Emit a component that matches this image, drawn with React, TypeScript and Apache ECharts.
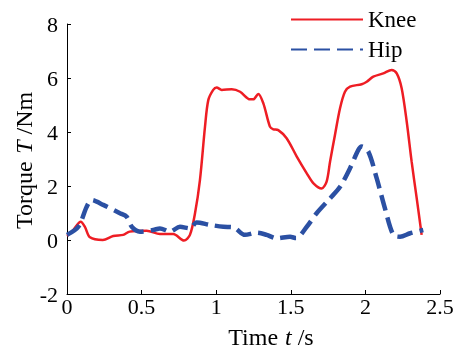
import React, { useEffect, useRef } from "react";
import * as echarts from "echarts";

const kneeData: number[][] = [
  [0, 0.15], [0.042, 0.37], [0.092, 0.68], [0.12, 0.49], [0.154, 0.1], [0.24, 0.0],
  [0.31, 0.15], [0.377, 0.19], [0.42, 0.31], [0.534, 0.34], [0.623, 0.22], [0.712, 0.22],
  [0.784, -0.02], [0.824, 0.19], [0.858, 0.99], [0.891, 2.22], [0.925, 4.2], [0.947, 5.18],
  [0.98, 5.56], [1.003, 5.65], [1.037, 5.56], [1.104, 5.58], [1.16, 5.49], [1.227, 5.21],
  [1.249, 5.21], [1.282, 5.41], [1.316, 5.06], [1.36, 4.2], [1.383, 4.1], [1.416, 4.07],
  [1.472, 3.77], [1.54, 3.09], [1.607, 2.47], [1.652, 2.1], [1.707, 1.91], [1.74, 2.16],
  [1.763, 2.9], [1.796, 3.89], [1.83, 4.88], [1.863, 5.49], [1.897, 5.68], [1.975, 5.77],
  [2.009, 5.86], [2.053, 6.05], [2.12, 6.17], [2.176, 6.3], [2.21, 6.17], [2.243, 5.62],
  [2.277, 4.38], [2.31, 2.9], [2.344, 1.54], [2.377, 0.19],
];

const hipData: number[][] = [
  [0, 0.19], [0.076, 0.49], [0.132, 1.23], [0.165, 1.48], [0.243, 1.3], [0.355, 0.99],
  [0.4, 0.86], [0.434, 0.49], [0.489, 0.31], [0.578, 0.37], [0.623, 0.43], [0.69, 0.31],
  [0.757, 0.49], [0.824, 0.43], [0.869, 0.65], [0.958, 0.56], [1.048, 0.49], [1.115, 0.47],
  [1.193, 0.19], [1.271, 0.27], [1.338, 0.19], [1.405, 0.06], [1.495, 0.12], [1.535, 0.07],
  [1.607, 0.49], [1.673, 0.99], [1.763, 1.54], [1.83, 1.97], [1.897, 2.66], [1.952, 3.33],
  [1.975, 3.46], [2.02, 3.27], [2.076, 2.28], [2.131, 1.17], [2.187, 0.19], [2.232, 0.12],
  [2.3, 0.25], [2.388, 0.37],
];

const seriesNames = ["Knee", "Hip"];
const xTitle = ["Time ", "t", " /s"];
const yTitle = ["Torque ", "T", " /Nm"];

const FONT = "Liberation Serif";

function titleGroup(parts: string[], offsets: number[], x: number, y: number, rotation: number) {
  return {
    type: "group",
    x,
    y,
    rotation,
    children: parts.map((p, i) => ({
      type: "text",
      x: offsets[i],
      y: 0,
      style: {
        text: p,
        fontFamily: FONT,
        fontSize: 24,
        fontStyle: i === 1 ? "italic" : "normal",
        fill: "#000",
        align: "left",
        verticalAlign: "middle",
      },
    })),
  };
}

export default function App() {
  const ref = useRef<HTMLDivElement>(null);
  useEffect(() => {
    if (!ref.current) return;
    const chart = echarts.init(ref.current, undefined, { renderer: "svg" });
    chart.setOption({
      animation: false,
      grid: { left: 67, right: 24, top: 24, bottom: 57 },
      legend: {
        orient: "vertical",
        left: 290,
        top: 8,
        padding: 0,
        itemWidth: 72,
        itemHeight: 14,
        itemGap: 7,
        data: seriesNames,
        itemStyle: { opacity: 0 },
        textStyle: { fontFamily: FONT, fontSize: 23, color: "#000" },
      },
      xAxis: {
        type: "value",
        min: 0,
        max: 2.5,
        interval: 0.5,
        axisLine: { onZero: false, lineStyle: { color: "#000", width: 1 } },
        axisTick: { inside: true, length: 4, lineStyle: { color: "#000" } },
        axisLabel: { fontFamily: FONT, fontSize: 22, color: "#000", margin: 1 },
        splitLine: { show: false },
      },
      yAxis: {
        type: "value",
        min: -2,
        max: 8,
        interval: 2,
        axisLine: { show: true, onZero: false, lineStyle: { color: "#000", width: 1 } },
        axisTick: { show: true, inside: true, length: 4, lineStyle: { color: "#000" } },
        axisLabel: { fontFamily: FONT, fontSize: 22, color: "#000", margin: 9 },
        splitLine: { show: false },
      },
      graphic: [
        titleGroup(xTitle, [-42.7, 14, 20.7], 271, 337, 0),
        titleGroup(yTitle, [-70, 5.3, 18.6], 24, 159, Math.PI / 2),
      ],
      series: [
        {
          name: seriesNames[0],
          type: "line",
          data: kneeData,
          showSymbol: false,
          symbol: "none",
          smooth: 0.3,
          color: "#ee1d24",
          lineStyle: { color: "#ee1d24", width: 2.5 },
          z: 2,
        },
        {
          name: seriesNames[1],
          type: "line",
          data: hipData,
          showSymbol: false,
          symbol: "none",
          smooth: 0.3,
          color: "#2b50a3",
          lineStyle: { color: "#2b50a3", width: 4.5, type: [16, 7] },
          z: 3,
        },
      ],
    });
    return () => chart.dispose();
  }, []);
  return (
    <div
      ref={ref}
      style={{ position: "fixed", left: 0, top: 0, width: 464, height: 351 }}
    />
  );
}
